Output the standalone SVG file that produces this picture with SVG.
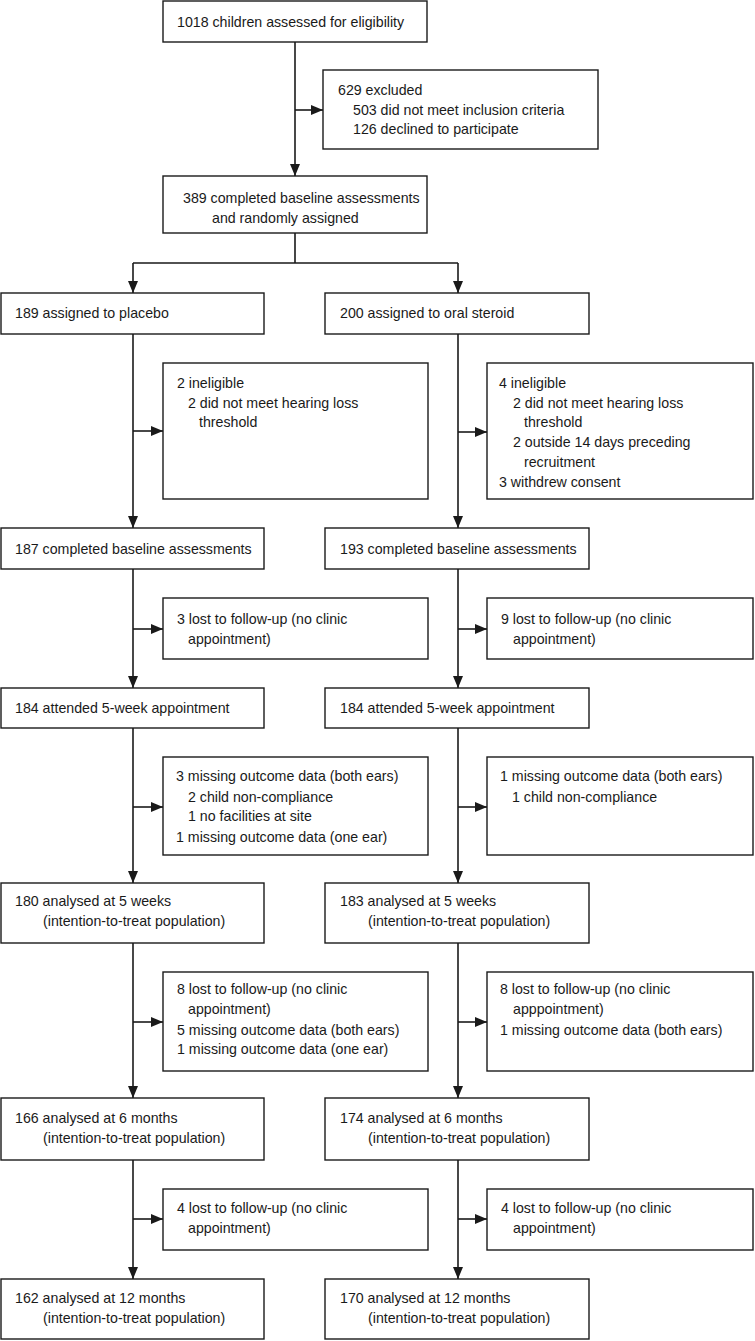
<svg xmlns="http://www.w3.org/2000/svg" width="755" height="1341" viewBox="0 0 755 1341">
<style>
.b{fill:#fff;stroke:#1a1a1a;stroke-width:1.4}
.c{fill:none;stroke:#1a1a1a;stroke-width:1.6}
text{font-family:"Liberation Sans",Arial,sans-serif;font-size:14.2px;fill:#1a1a1a}
</style>
<defs>
<marker id="ah" viewBox="0 0 12 10" refX="12" refY="5" markerWidth="12" markerHeight="10" markerUnits="userSpaceOnUse" orient="auto">
<path d="M0,0 L12,5 L0,10 Z" fill="#1a1a1a"/>
</marker>
</defs>
<rect width="755" height="1341" fill="#fff"/>
<g id="connectors">
<path class="c" d="M295,42 V176" marker-end="url(#ah)"/>
<path class="c" d="M295,110 H323" marker-end="url(#ah)"/>
<path class="c" d="M295,233 V263 M133,263 H458"/>
<path class="c" d="M133,263 V293" marker-end="url(#ah)"/>
<path class="c" d="M458,263 V293" marker-end="url(#ah)"/>
<path class="c" d="M133,334 V528" marker-end="url(#ah)"/>
<path class="c" d="M133,431 H163" marker-end="url(#ah)"/>
<path class="c" d="M458,334 V528" marker-end="url(#ah)"/>
<path class="c" d="M458,432 H487" marker-end="url(#ah)"/>
<path class="c" d="M133,569 V688" marker-end="url(#ah)"/>
<path class="c" d="M133,629 H163" marker-end="url(#ah)"/>
<path class="c" d="M458,569 V688" marker-end="url(#ah)"/>
<path class="c" d="M458,629 H487" marker-end="url(#ah)"/>
<path class="c" d="M133,728 V883" marker-end="url(#ah)"/>
<path class="c" d="M133,807 H163" marker-end="url(#ah)"/>
<path class="c" d="M458,728 V883" marker-end="url(#ah)"/>
<path class="c" d="M458,807 H487" marker-end="url(#ah)"/>
<path class="c" d="M133,943 V1098" marker-end="url(#ah)"/>
<path class="c" d="M133,1022 H163" marker-end="url(#ah)"/>
<path class="c" d="M458,943 V1098" marker-end="url(#ah)"/>
<path class="c" d="M458,1022 H487" marker-end="url(#ah)"/>
<path class="c" d="M133,1160 V1279" marker-end="url(#ah)"/>
<path class="c" d="M133,1219 H163" marker-end="url(#ah)"/>
<path class="c" d="M458,1160 V1279" marker-end="url(#ah)"/>
<path class="c" d="M458,1219 H487" marker-end="url(#ah)"/>
</g>
<g id="n-assessed"><rect class="b" x="163" y="1" width="264" height="41"/><text x="177" y="27">1018 children assessed for eligibility</text></g>
<g id="n-excluded"><rect class="b" x="323" y="70" width="275" height="79"/>
<text x="338" y="95">629 excluded</text><text x="353" y="115">503 did not meet inclusion criteria</text><text x="353" y="134">126 declined to participate</text></g>
<g id="n-random"><rect class="b" x="163" y="176" width="264" height="57"/><text x="183" y="203">389 completed baseline assessments</text><text x="212" y="223">and randomly assigned</text></g>
<g id="n-placebo"><rect class="b" x="1" y="293" width="263" height="41"/><text x="15" y="318">189 assigned to placebo</text></g>
<g id="n-steroid"><rect class="b" x="325" y="293" width="264" height="41"/><text x="340" y="318">200 assigned to oral steroid</text></g>
<g id="n-inel-p"><rect class="b" x="163" y="363" width="265" height="136"/>
<text x="177" y="388">2 ineligible</text><text x="188" y="408">2 did not meet hearing loss</text><text x="199" y="427">threshold</text></g>
<g id="n-inel-s"><rect class="b" x="487" y="363" width="266" height="136"/>
<text x="499" y="388">4 ineligible</text><text x="513" y="408">2 did not meet hearing loss</text><text x="524" y="427">threshold</text><text x="513" y="447">2 outside 14 days preceding</text><text x="524" y="467">recruitment</text><text x="499" y="487">3 withdrew consent</text></g>
<g id="n-base-p"><rect class="b" x="1" y="528" width="263" height="41"/><text x="15" y="554">187 completed baseline assessments</text></g>
<g id="n-base-s"><rect class="b" x="325" y="528" width="264" height="41"/><text x="340" y="554">193 completed baseline assessments</text></g>
<g id="n-lost1-p"><rect class="b" x="163" y="598" width="265" height="61"/><text x="177" y="624">3 lost to follow-up (no clinic</text><text x="188" y="644">appointment)</text></g>
<g id="n-lost1-s"><rect class="b" x="487" y="598" width="266" height="61"/><text x="501" y="624">9 lost to follow-up (no clinic</text><text x="513" y="644">appointment)</text></g>
<g id="n-att-p"><rect class="b" x="1" y="688" width="263" height="40"/><text x="15" y="713">184 attended 5-week appointment</text></g>
<g id="n-att-s"><rect class="b" x="325" y="688" width="264" height="40"/><text x="340" y="713">184 attended 5-week appointment</text></g>
<g id="n-miss-p"><rect class="b" x="163" y="757" width="265" height="98"/>
<text x="176" y="781">3 missing outcome data (both ears)</text><text x="188" y="802">2 child non-compliance</text><text x="188" y="821">1 no facilities at site</text><text x="176" y="842">1 missing outcome data (one ear)</text></g>
<g id="n-miss-s"><rect class="b" x="487" y="757" width="266" height="98"/>
<text x="500" y="781">1 missing outcome data (both ears)</text><text x="512" y="802">1 child non-compliance</text></g>
<g id="n-5w-p"><rect class="b" x="1" y="883" width="263" height="60"/><text x="15" y="906">180 analysed at 5 weeks</text><text x="43" y="926">(intention-to-treat population)</text></g>
<g id="n-5w-s"><rect class="b" x="325" y="883" width="264" height="60"/><text x="340" y="906">183 analysed at 5 weeks</text><text x="368" y="926">(intention-to-treat population)</text></g>
<g id="n-lost2-p"><rect class="b" x="163" y="972" width="265" height="99"/>
<text x="177" y="994">8 lost to follow-up (no clinic</text><text x="188" y="1014">appointment)</text><text x="177" y="1035">5 missing outcome data (both ears)</text><text x="177" y="1054">1 missing outcome data (one ear)</text></g>
<g id="n-lost2-s"><rect class="b" x="487" y="972" width="266" height="99"/>
<text x="500" y="994">8 lost to follow-up (no clinic</text><text x="513" y="1014">apppointment)</text><text x="500" y="1035">1 missing outcome data (both ears)</text></g>
<g id="n-6m-p"><rect class="b" x="1" y="1098" width="263" height="62"/><text x="15" y="1123">166 analysed at 6 months</text><text x="43" y="1143">(intention-to-treat population)</text></g>
<g id="n-6m-s"><rect class="b" x="325" y="1098" width="264" height="62"/><text x="340" y="1123">174 analysed at 6 months</text><text x="368" y="1143">(intention-to-treat population)</text></g>
<g id="n-lost3-p"><rect class="b" x="163" y="1189" width="265" height="61"/><text x="177" y="1213">4 lost to follow-up (no clinic</text><text x="188" y="1233">appointment)</text></g>
<g id="n-lost3-s"><rect class="b" x="487" y="1189" width="266" height="61"/><text x="501" y="1213">4 lost to follow-up (no clinic</text><text x="513" y="1233">appointment)</text></g>
<g id="n-12m-p"><rect class="b" x="1" y="1279" width="263" height="60"/><text x="15" y="1303">162 analysed at 12 months</text><text x="43" y="1323">(intention-to-treat population)</text></g>
<g id="n-12m-s"><rect class="b" x="325" y="1279" width="264" height="60"/><text x="340" y="1303">170 analysed at 12 months</text><text x="368" y="1323">(intention-to-treat population)</text></g>
</svg>
